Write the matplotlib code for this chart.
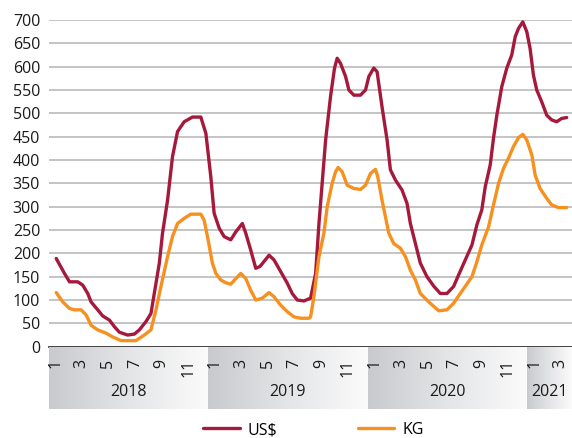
import matplotlib
matplotlib.use("Agg")
import matplotlib.pyplot as plt
import numpy as np
from matplotlib.colors import LinearSegmentedColormap

plt.rcParams["font.family"] = ["Open Sans", "DejaVu Sans"]

# time axis in months since the start of Jan 2018
years = ["2018", "2019", "2020", "2021"]
months_in_year = [12, 12, 12, 3]

usd_t = [0.58, 1.20, 1.58, 2.20, 2.57, 2.95, 3.20, 3.70, 4.07, 4.58, 4.95, 5.33,
         5.95, 6.45, 6.83, 7.33, 7.70, 7.95, 8.33, 8.57, 8.95, 9.32, 9.70, 10.20,
         10.82, 11.45, 11.83, 12.20, 12.45, 12.83, 13.20, 13.70, 14.08, 14.57,
         14.83, 15.20, 15.58, 15.90, 16.58, 16.95, 17.45, 17.95, 18.32, 18.70,
         19.20, 19.70, 20.08, 20.33, 20.83, 21.20, 21.50, 21.70, 21.95, 22.33,
         22.58, 22.95, 23.45, 23.83, 24.08, 24.45, 24.70, 25.07, 25.45, 25.70,
         26.08, 26.57, 26.95, 27.20, 27.58, 27.95, 28.45, 28.95, 29.45, 29.95,
         30.45, 30.83, 31.33, 31.83, 32.20, 32.57, 32.83, 33.20, 33.45, 33.70,
         34.07, 34.45, 34.82, 35.08, 35.33, 35.65, 35.95, 36.20, 36.45, 36.70,
         37.07, 37.45, 37.82, 38.20, 38.57, 38.95]
usd = [189, 157, 139, 139, 132, 114, 96, 79, 66, 57, 43, 31,
       25, 27, 36, 54, 71, 114, 179, 243, 314, 407, 461, 482,
       492, 492, 457, 364, 286, 254, 236, 229, 246, 264,
       243, 207, 168, 172, 196, 186, 161, 136, 114, 100,
       98, 104, 157, 264, 443, 536, 597, 618, 607, 579,
       550, 539, 539, 550, 579, 597, 589, 514, 443, 379,
       357, 336, 307, 264, 221, 179, 150, 130, 114, 114,
       129, 154, 186, 218, 261, 293, 343, 389, 447, 496,
       557, 597, 625, 664, 682, 696, 675, 639, 582, 550,
       525, 496, 486, 482, 489, 491]

kg_t = [0.58, 1.07, 1.58, 1.95, 2.45, 2.83, 3.20, 3.70, 4.33, 4.82, 5.45, 6.08,
        6.58, 7.20, 7.70, 8.08, 8.45, 8.95, 9.32, 9.70, 10.20, 10.70, 11.45,
        11.70, 11.95, 12.32, 12.58, 12.95, 13.33, 13.70, 14.08, 14.45, 14.83,
        15.20, 15.58, 16.07, 16.58, 16.95, 17.45, 17.95, 18.45, 18.95, 19.58,
        19.70, 19.95, 20.33, 20.70, 20.95, 21.32, 21.58, 21.77, 22.07, 22.45,
        22.95, 23.45, 23.83, 24.20, 24.58, 24.75, 25.07, 25.58, 25.95, 26.45,
        26.83, 27.20, 27.58, 27.95, 28.58, 29.33, 29.95, 30.45, 30.95, 31.83,
        32.20, 32.57, 33.08, 33.45, 33.83, 34.20, 34.58, 34.95, 35.33, 35.65,
        35.95, 36.33, 36.58, 36.95, 37.45, 37.82, 38.33, 38.95]
kg = [116, 96, 82, 79, 79, 68, 46, 36, 29, 21, 13, 13,
      13, 25, 36, 79, 129, 193, 236, 264, 275, 284, 284,
      271, 236, 179, 157, 143, 137, 134, 146, 157, 146,
      121, 100, 104, 116, 107, 89, 75, 64, 61, 61,
      64, 107, 193, 243, 300, 350, 375, 384, 375, 346,
      339, 337, 346, 371, 380, 364, 314, 243, 221, 211,
      193, 164, 143, 114, 96, 77, 79, 93, 114, 150,
      182, 218, 257, 304, 350, 382, 404, 429, 448, 455,
      443, 411, 368, 339, 318, 304, 298, 298]

USD_COLOR = "#a5193d"
KG_COLOR = "#f7901e"
FS = 11.5
XMAX = 39.35

W, H = 572, 438
fig = plt.figure(figsize=(W / 100, H / 100), dpi=100)
ax = fig.add_axes([48.5 / W, (H - 346.7) / H, (W - 48.5) / W, (346.7 - 20) / H])

l1, = ax.plot(usd_t, usd, color=USD_COLOR, lw=2.4, solid_joinstyle="round",
              solid_capstyle="round", label="US$")
l2, = ax.plot(kg_t, kg, color=KG_COLOR, lw=2.4, solid_joinstyle="round",
              solid_capstyle="round", label="KG")

ax.set_xlim(0, XMAX)
ax.set_ylim(0, 700)
ax.set_yticks(range(0, 701, 50))
ax.set_xticks([])
ax.grid(axis="y", color="#b4b4b4", lw=1.1)
ax.set_axisbelow(True)
for s in ["top", "right", "left"]:
    ax.spines[s].set_visible(False)
ax.spines["bottom"].set_color("#3a3a3a")
ax.spines["bottom"].set_linewidth(1.3)
ax.tick_params(axis="y", length=0, pad=6, labelsize=FS, labelcolor="#1a1a1a")

# multi-level category band under the plot
ax2 = fig.add_axes([48.5 / W, (H - 409.3) / H, (W - 48.5) / W, 62.6 / H])
cmap = LinearSegmentedColormap.from_list("band", ["#c9cacd", "#e4e5e7", "#fbfbfb"])
grad = np.linspace(0, 1, 256).reshape(1, -1)
start = 0
for i, (yr, n) in enumerate(zip(years, months_in_year)):
    end = XMAX if i == len(years) - 1 else start + n
    ax2.imshow(grad, extent=[start, end, 0, 1], aspect="auto", cmap=cmap, zorder=0)
    for m in range(1, n + 1, 2):
        ax2.text(start + m - 0.5, 0.80, str(m), rotation=90, ha="center", va="top",
                 fontsize=FS, color="#1a1a1a")
    ax2.text((start + end) / 2, 0.27, yr, ha="center", va="center",
             fontsize=FS, color="#1a1a1a")
    start += n
ax2.set_xlim(0, XMAX)
ax2.set_ylim(0, 1)
ax2.axis("off")

fig.legend(handles=[l1, l2], loc="center", bbox_to_anchor=(0.548, 8 / H), ncol=2,
           frameon=False, fontsize=FS, handlelength=2.3, handletextpad=0.5,
           columnspacing=5.0, borderpad=0)

fig.savefig("out.png", dpi=100)
